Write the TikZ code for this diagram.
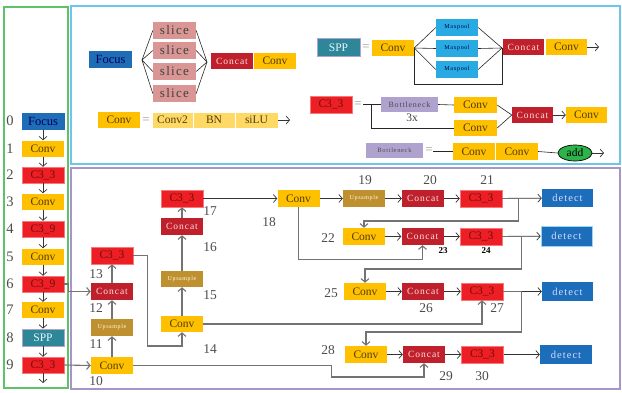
\documentclass[tikz,border=0pt]{standalone}
\usepackage{fontspec}
\usepackage{tikz}
\usetikzlibrary{arrows.meta, shapes.geometric}
\setmainfont{Liberation Serif}
\newfontfamily\spacedfont[LetterSpace=10]{Liberation Serif}
\newcommand{\fsz}[1]{\fontsize{#1}{#1}\selectfont}
\definecolor{convyellow}{RGB}{255, 192, 0}
\definecolor{convtext}{RGB}{80, 60, 10}
\definecolor{c3red}{RGB}{237, 30, 36}
\definecolor{c3text}{RGB}{110, 15, 15}
\definecolor{concatred}{RGB}{192, 32, 43}
\definecolor{focusblue}{RGB}{30, 109, 181}
\definecolor{detectblue}{RGB}{28, 110, 186}
\definecolor{sppteal}{RGB}{46, 135, 153}
\definecolor{upgold}{RGB}{191, 144, 48}
\definecolor{mpblue}{RGB}{42, 170, 226}
\definecolor{slicepink}{RGB}{217, 150, 148}
\definecolor{lightyellow}{RGB}{255, 217, 102}
\definecolor{neckpurple}{RGB}{176, 162, 207}
\definecolor{addgreen}{RGB}{45, 179, 74}
\definecolor{panelgreen}{RGB}{94, 194, 102}
\definecolor{panelblue}{RGB}{109, 197, 235}
\definecolor{panelpurple}{RGB}{168, 149, 199}

\begin{document}
\begin{tikzpicture}[x=1pt, y=-1pt,
    box/.style={rectangle, inner sep=0pt, minimum height=16pt, minimum width=42pt, font=\fsz{11.5}},
    convbox/.style={box, fill=convyellow, text=convtext},
    cthree/.style={box, fill=c3red, text=c3text, draw=c3red!60!white, line width=0.5pt},
    concatbox/.style={box, fill=concatred, text=white!88!red, font=\spacedfont\fsz{9.5}},
    upbox/.style={box, fill=upgold, text=white!85!yellow, font=\spacedfont\fsz{6}},
    poolbox/.style={box, fill=mpblue, text=black!70!blue, font=\spacedfont\fsz{6}, minimum height=17pt},
    slicebox/.style={box, fill=slicepink, text=black!75, font=\spacedfont\fsz{13}, minimum width=43pt, minimum height=17pt},
    lightbox/.style={box, fill=lightyellow, text=convtext, draw=white, line width=0.8pt},
    neckbox/.style={box, fill=neckpurple, text=black!70, font=\spacedfont\fsz{7}, minimum width=57pt, minimum height=15pt},
    focusbox/.style={box, fill=focusblue, text=black!60!blue, font=\fsz{12.5}, minimum width=43pt, minimum height=17pt},
    detectbox/.style={box, fill=detectblue, text=white!85!blue, font=\spacedfont\fsz{10.5}, minimum width=51pt, minimum height=18pt},
    sppbox/.style={box, fill=sppteal, text=white!90!cyan, draw=neckpurple, line width=0.8pt, minimum height=18pt},
    idx/.style={font=\fsz{13.5}, text=black!70, inner sep=0pt},
    tag/.style={font=\bfseries\fsz{9}, inner sep=0pt},
    eqsign/.style={font=\fsz{13}, text=black!40, inner sep=0pt},
    arrow/.style={-{Straight Barb[length=3.5pt, width=8pt]}, draw=black!80, line width=0.7pt},
    route/.style={arrow, draw=black!55, line width=1.1pt},
    fan/.style={draw=black!85, line width=0.6pt},
    panel/.style={line width=1.3pt}
]
\useasboundingbox (0,0) rectangle (622,392);

\draw[panel, panelgreen] (4,7) rectangle (68,388);
\draw[panel, panelblue] (71,6) rectangle (620,164);
\draw[panel, panelpurple] (71,168) rectangle (620,389);

\node[focusbox] (l0) at (43,121) {Focus};
\node[convbox] (l1) at (43,148.5) {Conv};
\node[cthree] (l2) at (43,175) {C3\_3};
\node[convbox] (l3) at (43,201.5) {Conv};
\node[cthree] (l4) at (43,229) {C3\_9};
\node[convbox] (l5) at (43,256.5) {Conv};
\node[cthree] (l6) at (43,284) {C3\_9};
\node[convbox] (l7) at (43,310) {Conv};
\node[sppbox, minimum height=17pt] (l8) at (43,337.5) {SPP};
\node[cthree] (l9) at (43,365) {C3\_3};
\coordinate (lout) at (43,383);
\foreach \i/\y in {0/121, 1/148.5, 2/175, 3/201.5, 4/229, 5/256.5, 6/284, 7/310, 8/337.5, 9/365}
    \node[idx, font=\fsz{14.5}] (k\i) at (10,\y) {\i};
\foreach \a/\b in {l0/l1, l1/l2, l2/l3, l3/l4, l4/l5, l5/l6, l6/l7, l7/l8, l8/l9, l9/lout}
    \draw[arrow] (\a) -- (\b);

\node[focusbox] (focusT) at (110.5,59.5) {Focus};
\node[slicebox] (s1) at (174.5,30.5) {slice};
\node[slicebox] (s2) at (174.5,50.5) {slice};
\node[slicebox] (s3) at (174.5,71.5) {slice};
\node[slicebox] (s4) at (174.5,93.5) {slice};
\coordinate (fanin) at (142,60);
\coordinate (fanout) at (207,62);
\node[concatbox] (catT) at (232,61) {Concat};
\node[convbox] (convT) at (275,61) {Conv};
\foreach \s in {s1, s2, s3, s4} {
    \draw[fan] (fanin) -- (\s.west);
    \draw[fan] (\s.east) -- (fanout);
}

\node[convbox] (convEq) at (119,120) {Conv};
\node[eqsign] (eq1) at (146,121) {=};
\node[lightbox, minimum width=41pt] (conv2) at (172.5,120) {Conv2};
\node[lightbox] (bn) at (214,120) {BN};
\node[lightbox, minimum width=43pt] (silu) at (256.5,120) {siLU};
\coordinate (siluout) at (290,120);
\draw[arrow] (silu) -- (siluout);

\node[sppbox, minimum width=43pt] (spp) at (338.5,47.5) {SPP};
\node[eqsign] (eq2) at (366,48) {=};
\node[convbox] (convS) at (393,48) {Conv};
\node[poolbox] (mp1) at (457,27.5) {Maxpool};
\node[poolbox] (mp2) at (457,48.5) {Maxpool};
\node[poolbox] (mp3) at (457,69.5) {Maxpool};
\coordinate (sppjoin) at (502,48);
\node[concatbox, minimum width=41pt] (catS) at (523.5,47) {Concat};
\node[convbox, minimum width=41pt] (convS2) at (566.5,47) {Conv};
\coordinate (sppout) at (599,47);
\foreach \m in {mp1, mp2, mp3} {
    \draw[fan] (convS.east) -- (\m.west);
    \draw[fan] (\m.east) -- (sppjoin);
}
\draw[fan] (convS.east) -- ++(0,36) -| (sppjoin);
\draw[arrow] (convS2) -- (sppout);

\node[cthree, minimum height=17pt] (c3eq) at (331,104.5) {C3\_3};
\node[eqsign] (eq3) at (358,105) {=};
\coordinate (c3in) at (363,104.5);
\coordinate (split) at (371,104.5);
\node[neckbox, font=\spacedfont\fsz{8}] (neck1) at (409.5,104.5) {Bottleneck};
\node[font=\fsz{11.5}, text=black!75] (times) at (412,118) {3x};
\node[convbox, minimum width=43pt] (cvA) at (475.5,105) {Conv};
\node[convbox, minimum width=43pt] (cvB) at (475.5,128) {Conv};
\node[concatbox, minimum width=41pt] (catC) at (532.5,115) {Concat};
\node[convbox, minimum width=41pt] (convC) at (586.5,115) {Conv};
\draw[fan] (c3in) -- (neck1.west);
\draw[fan] (neck1.east) -- (cvA.west);
\draw[fan] (split) |- (cvB.west);
\draw[fan] (cvA.east) -- (catC.west);
\draw[fan] (cvB.east) -- (catC.west);
\draw[arrow] (catC) -- (convC);

\node[neckbox, font=\spacedfont\fsz{6.5}] (neck2) at (394.5,150.5) {Bottleneck};
\node[eqsign] (eq4) at (429,151) {=};
\coordinate (neckin) at (433,151.5);
\node[convbox, minimum height=17pt] (cvC) at (474,151.5) {Conv};
\node[convbox, minimum height=17pt] (cvD) at (517,151.5) {Conv};
\node[ellipse, draw=black, line width=0.7pt, fill=addgreen, minimum width=34pt, minimum height=16pt, inner sep=0pt, font=\fsz{11.5}] (add) at (575,153) {add};
\coordinate (addout) at (604,153);
\draw[fan] (neckin) -- (cvC.west);
\draw[fan] (cvD.east) -- (add.west);
\draw[arrow] (add) -- (addout);

\node[convbox, minimum height=17pt] (n10) at (112,365.5) {Conv};
\node[upbox, minimum height=17pt] (n11) at (112,327.5) {Upsample};
\node[concatbox, minimum height=17pt] (n12) at (112,291.5) {Concat};
\node[cthree, minimum height=17pt] (n13) at (112,255.5) {C3\_3};
\node[convbox] (n14) at (182,324) {Conv};
\node[upbox] (n15) at (182,279) {Upsample};
\node[concatbox, minimum height=17pt] (n16) at (182,226.5) {Concat};
\node[cthree, minimum height=17pt] (n17) at (182,198.5) {C3\_3};
\node[convbox, minimum height=17pt] (n18) at (298.5,198.5) {Conv};
\node[upbox, minimum height=17pt] (n19) at (364,198.5) {Upsample};
\node[concatbox, minimum height=17pt] (n20) at (423,198.5) {Concat};
\node[cthree, minimum height=17pt] (n21) at (481,198.5) {C3\_3};
\node[detectbox] (d1) at (567.5,198) {detect};
\node[convbox, minimum height=17pt] (n22) at (364,236.5) {Conv};
\node[concatbox, minimum height=17pt] (n23) at (422.5,236.5) {Concat};
\node[cthree, minimum height=17pt] (n24) at (481,236.5) {C3\_3};
\node[detectbox, minimum height=20pt, draw=panelblue!70, line width=0.6pt] (d2) at (566.5,236) {detect};
\node[convbox, minimum height=17pt] (n25) at (365,291.5) {Conv};
\node[concatbox, minimum height=17pt] (n26) at (423,291.5) {Concat};
\node[cthree, minimum height=17pt] (n27) at (482,291.5) {C3\_3};
\node[detectbox, minimum height=19pt] (d3) at (567.5,291.5) {detect};
\node[convbox, minimum height=17pt] (n28) at (366,354.5) {Conv};
\node[concatbox, minimum height=17pt] (n29) at (424,354.5) {Concat};
\node[cthree, minimum height=17pt] (n30) at (482.5,354.5) {C3\_3};
\node[detectbox, minimum height=19pt, minimum width=52pt] (d4) at (566,354.5) {detect};

\foreach \n/\x/\y in {10/96/381, 11/96/344, 12/96/308, 13/96/274, 14/210/349, 15/210/295, 16/210/247, 17/210/211,
    18/269/222, 19/365/180, 20/430/180, 21/487/180, 22/328/238, 25/331/293, 26/426/308, 27/497/308,
    28/328/350, 29/446/376, 30/482/376}
    \node[idx] (t\n) at (\x,\y) {\n};
\node[tag] (t23) at (443,251) {23};
\node[tag] (t24) at (486,251) {24};

\draw[route] (l9.east) -- (n10.west);
\draw[route] (l6.east) -- ++(4,0) |- (n12.west);
\foreach \a/\b in {n10/n11, n11/n12, n12/n13, n14/n15, n15/n16, n16/n17}
    \draw[route] (\a) -- (\b);
\draw[route] (n13.east) -- ++(14,0) -- ++(0,90.5) -| (n14.south);
\draw[arrow] (n17) -- (n18);
\foreach \a/\b in {n18/n19, n19/n20, n20/n21, n21/d1, n22/n23, n23/n24, n24/d2, n25/n26, n26/n27, n27/d3, n28/n29, n29/n30, n30/d4}
    \draw[arrow] (\a) -- (\b);
\draw[route] (n21.east) -- ++(16,0) -- ++(0,22.5) -| (n22.north);
\draw[route] (n18.south) -- ++(0,52) -| (n23.south);
\draw[route] (n24.east) -- ++(19,0) -- ++(0,32.5) -| (n25.north);
\draw[route] (n14.east) -| (n27.south);
\draw[route] (n27.east) -- ++(18,0) -- ++(0,40.5) -| (n28.north);
\draw[route] (n10.east) -- ++(198,0) -- ++(0,11.5) -| (n29.south);

\end{tikzpicture}
\end{document}
